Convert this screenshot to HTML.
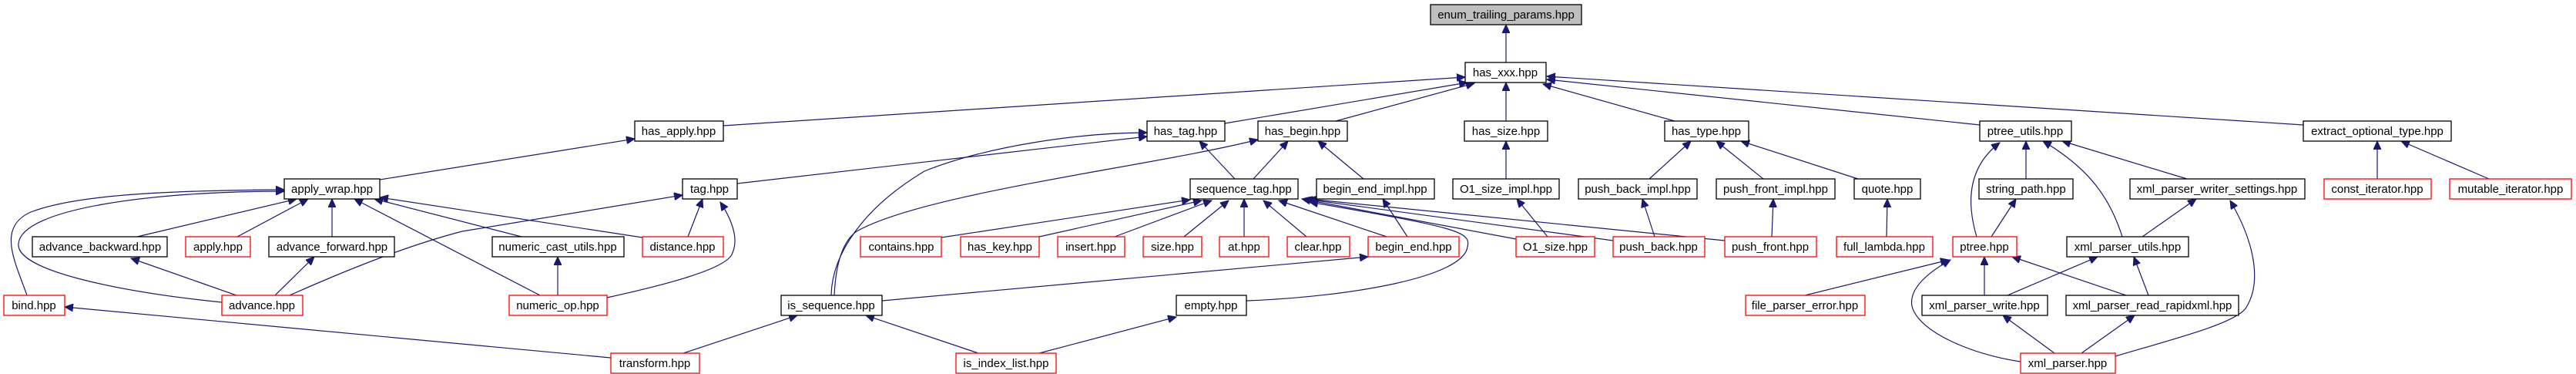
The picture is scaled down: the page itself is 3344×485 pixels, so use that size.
<!DOCTYPE html>
<html><head><meta charset="utf-8"><style>
html,body{margin:0;padding:0;background:#fff;}
svg{display:block}
text{font-family:"Liberation Sans",sans-serif;font-size:15px;text-anchor:middle;fill:#000}
.b{fill:#fff;stroke:#000;stroke-width:1.3}
.r{fill:#fff;stroke:#ff0000;stroke-width:1.3}
.e{fill:none;stroke:#191970;stroke-width:1.2}
</style></head><body>
<svg width="3344" height="485" viewBox="0 0 3344 485" xmlns="http://www.w3.org/2000/svg">
<defs><marker id="a" markerUnits="userSpaceOnUse" markerWidth="12" markerHeight="10" refX="11" refY="5" orient="auto"><path d="M0,0 L11,5 L0,10 z" fill="#191970" stroke="#191970"/></marker></defs>
<g class="e" marker-end="url(#a)">
<path d="M1955,81 L1955,32"/>
<path d="M939,163 L1902,100"/>
<path d="M1590,160 L1905,107"/>
<path d="M1734,157 L1914,108"/>
<path d="M1955,157 L1955,107"/>
<path d="M2174,157 L2003,109"/>
<path d="M2570,162 L2008,103"/>
<path d="M2990,162 L2008,99"/>
<path d="M493,233 L824,180"/>
<path d="M957,238 L1489,177"/>
<path d="M1079,383 C1080,330 1120,270 1200,222 C1280,190 1400,172 1489,172"/>
<path d="M1083,383 C1085,340 1095,312 1112,300 C1200,250 1500,215 1633,181"/>
<path d="M1603,232 L1557,183"/>
<path d="M1627,232 L1672,183"/>
<path d="M1770,232 L1711,183"/>
<path d="M1955,232 L1955,183"/>
<path d="M2141,232 L2195,183"/>
<path d="M2289,232 L2228,183"/>
<path d="M2412,232 L2260,183"/>
<path d="M2566,307 C2555,270 2550,220 2596,185"/>
<path d="M2630,232 L2630,183"/>
<path d="M2755,307 C2740,260 2715,220 2652,183"/>
<path d="M2839,232 L2677,183"/>
<path d="M3086,232 L3086,183"/>
<path d="M3231,232 L3117,183"/>
<path d="M2585,307 L2617,258"/>
<path d="M2781,307 L2851,258"/>
<path d="M2746,462 C2820,440 2900,420 2915,400 C2935,370 2930,320 2895,260"/>
<path d="M2343,383 L2530,337"/>
<path d="M2623,469 C2560,460 2490,430 2482,397 C2478,375 2500,355 2532,337"/>
<path d="M2576,383 L2576,333"/>
<path d="M2760,383 L2612,333"/>
<path d="M2606,383 L2723,333"/>
<path d="M2789,383 L2770,333"/>
<path d="M2667,458 L2600,409"/>
<path d="M2702,458 L2771,409"/>
<path d="M178,307 L385,258"/>
<path d="M308,307 L400,258"/>
<path d="M431,307 L431,258"/>
<path d="M677,307 L486,258"/>
<path d="M834,308 L493,256"/>
<path d="M701,383 L460,258"/>
<path d="M35,383 C20,340 -5,295 40,275 C100,252 220,247 369,246"/>
<path d="M288,392 C150,378 20,350 24,316 C28,270 200,248 369,248"/>
<path d="M307,383 L170,335"/>
<path d="M357,383 L408,333"/>
<path d="M376,383 C450,350 530,318 600,300 L886,253"/>
<path d="M724,383 L724,333"/>
<path d="M893,307 L912,258"/>
<path d="M788,386 C860,370 940,350 950,330 C960,310 950,285 935,262"/>
<path d="M793,464 L84,398"/>
<path d="M887,458 L1035,409"/>
<path d="M1270,458 L1124,409"/>
<path d="M1349,458 L1527,411"/>
<path d="M1145,390 L1776,333"/>
<path d="M1222,308 L1545,259"/>
<path d="M1349,307 L1560,260"/>
<path d="M1447,307 L1573,260"/>
<path d="M1537,307 L1595,260"/>
<path d="M1615,307 L1615,258"/>
<path d="M1696,307 L1640,260"/>
<path d="M1800,307 L1660,260"/>
<path d="M1968,310 L1690,258"/>
<path d="M2094,312 L1693,258"/>
<path d="M2239,312 L1698,258"/>
<path d="M1618,390 C1750,385 1900,360 1905,320 C1910,300 1890,295 1700,262"/>
<path d="M1827,307 L1795,258"/>
<path d="M2009,307 L1969,258"/>
<path d="M2148,307 L2132,258"/>
<path d="M2300,307 L2302,258"/>
<path d="M2449,307 L2450,258"/>
</g>
<g>
<rect x="1857" y="6" width="196" height="26" fill="#bfbfbf" stroke="#000" stroke-width="1.3"/><text x="1955" y="24">enum_trailing_params.hpp</text>
<rect class="b" x="1902" y="81" width="105" height="26"/><text x="1954" y="99">has_xxx.hpp</text>
<rect class="b" x="824" y="157" width="115" height="26"/><text x="881" y="175">has_apply.hpp</text>
<rect class="b" x="1489" y="157" width="101" height="26"/><text x="1539" y="175">has_tag.hpp</text>
<rect class="b" x="1633" y="157" width="116" height="26"/><text x="1691" y="175">has_begin.hpp</text>
<rect class="b" x="1901" y="157" width="108" height="26"/><text x="1955" y="175">has_size.hpp</text>
<rect class="b" x="2161" y="157" width="109" height="26"/><text x="2215" y="175">has_type.hpp</text>
<rect class="b" x="2570" y="157" width="119" height="26"/><text x="2629" y="175">ptree_utils.hpp</text>
<rect class="b" x="2990" y="157" width="192" height="26"/><text x="3086" y="175">extract_optional_type.hpp</text>
<rect class="b" x="369" y="232" width="124" height="26"/><text x="431" y="250">apply_wrap.hpp</text>
<rect class="b" x="886" y="232" width="71" height="26"/><text x="921" y="250">tag.hpp</text>
<rect class="b" x="1545" y="232" width="140" height="26"/><text x="1615" y="250">sequence_tag.hpp</text>
<rect class="b" x="1709" y="232" width="153" height="26"/><text x="1785" y="250">begin_end_impl.hpp</text>
<rect class="b" x="1886" y="232" width="138" height="26"/><text x="1955" y="250">O1_size_impl.hpp</text>
<rect class="b" x="2049" y="232" width="154" height="26"/><text x="2126" y="250">push_back_impl.hpp</text>
<rect class="b" x="2228" y="232" width="154" height="26"/><text x="2305" y="250">push_front_impl.hpp</text>
<rect class="b" x="2407" y="232" width="86" height="26"/><text x="2450" y="250">quote.hpp</text>
<rect class="b" x="2569" y="232" width="122" height="26"/><text x="2630" y="250">string_path.hpp</text>
<rect class="b" x="2765" y="232" width="227" height="26"/><text x="2878" y="250">xml_parser_writer_settings.hpp</text>
<rect class="r" x="3017" y="232" width="139" height="26"/><text x="3086" y="250">const_iterator.hpp</text>
<rect class="r" x="3180" y="232" width="158" height="26"/><text x="3259" y="250">mutable_iterator.hpp</text>
<rect class="b" x="42" y="307" width="175" height="26"/><text x="130" y="325">advance_backward.hpp</text>
<rect class="r" x="241" y="307" width="84" height="26"/><text x="283" y="325">apply.hpp</text>
<rect class="b" x="349" y="307" width="163" height="26"/><text x="431" y="325">advance_forward.hpp</text>
<rect class="b" x="639" y="307" width="171" height="26"/><text x="724" y="325">numeric_cast_utils.hpp</text>
<rect class="r" x="834" y="307" width="105" height="26"/><text x="886" y="325">distance.hpp</text>
<rect class="r" x="1117" y="307" width="105" height="26"/><text x="1170" y="325">contains.hpp</text>
<rect class="r" x="1247" y="307" width="102" height="26"/><text x="1298" y="325">has_key.hpp</text>
<rect class="r" x="1373" y="307" width="87" height="26"/><text x="1416" y="325">insert.hpp</text>
<rect class="r" x="1484" y="307" width="76" height="26"/><text x="1522" y="325">size.hpp</text>
<rect class="r" x="1583" y="307" width="64" height="26"/><text x="1615" y="325">at.hpp</text>
<rect class="r" x="1671" y="307" width="81" height="26"/><text x="1711" y="325">clear.hpp</text>
<rect class="r" x="1776" y="307" width="118" height="26"/><text x="1835" y="325">begin_end.hpp</text>
<rect class="r" x="1968" y="307" width="102" height="26"/><text x="2019" y="325">O1_size.hpp</text>
<rect class="r" x="2094" y="307" width="119" height="26"/><text x="2153" y="325">push_back.hpp</text>
<rect class="r" x="2239" y="307" width="119" height="26"/><text x="2298" y="325">push_front.hpp</text>
<rect class="r" x="2384" y="307" width="125" height="26"/><text x="2446" y="325">full_lambda.hpp</text>
<rect class="r" x="2535" y="307" width="83" height="26"/><text x="2576" y="325">ptree.hpp</text>
<rect class="b" x="2683" y="307" width="158" height="26"/><text x="2762" y="325">xml_parser_utils.hpp</text>
<rect class="r" x="5" y="383" width="79" height="26"/><text x="44" y="401">bind.hpp</text>
<rect class="r" x="288" y="383" width="105" height="26"/><text x="340" y="401">advance.hpp</text>
<rect class="r" x="661" y="383" width="127" height="26"/><text x="724" y="401">numeric_op.hpp</text>
<rect class="b" x="1014" y="383" width="131" height="26"/><text x="1079" y="401">is_sequence.hpp</text>
<rect class="b" x="1527" y="383" width="91" height="26"/><text x="1572" y="401">empty.hpp</text>
<rect class="r" x="2266" y="383" width="155" height="26"/><text x="2343" y="401">file_parser_error.hpp</text>
<rect class="b" x="2495" y="383" width="163" height="26"/><text x="2576" y="401">xml_parser_write.hpp</text>
<rect class="b" x="2682" y="383" width="224" height="26"/><text x="2794" y="401">xml_parser_read_rapidxml.hpp</text>
<rect class="r" x="793" y="458" width="115" height="26"/><text x="850" y="476">transform.hpp</text>
<rect class="r" x="1241" y="458" width="130" height="26"/><text x="1306" y="476">is_index_list.hpp</text>
<rect class="r" x="2623" y="458" width="123" height="26"/><text x="2684" y="476">xml_parser.hpp</text>
</g>
</svg>
</body></html>
